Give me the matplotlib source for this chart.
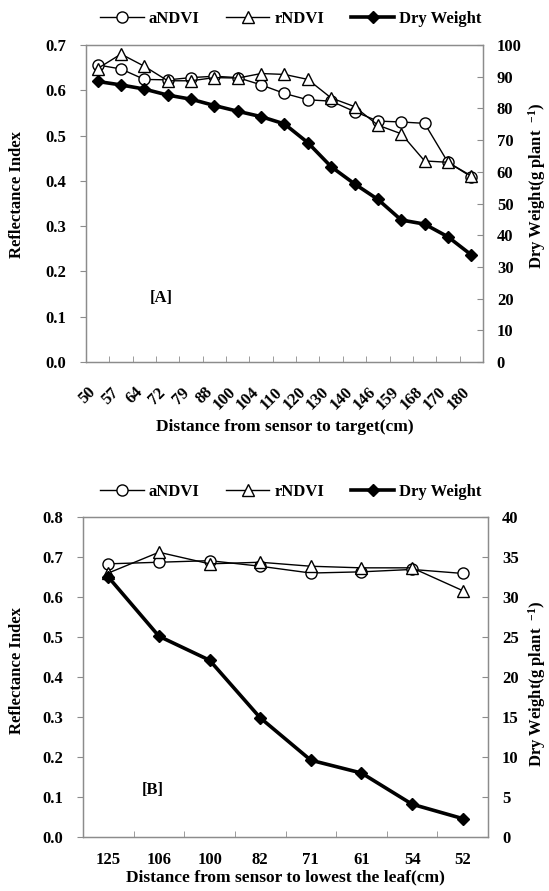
import numpy as np
import matplotlib
matplotlib.use("Agg")
import matplotlib.pyplot as plt
import matplotlib.transforms as mtransforms
from matplotlib.ticker import FixedLocator, MultipleLocator, FormatStrFormatter

plt.rcParams['font.family'] = ['Liberation Serif', 'DejaVu Serif']
plt.rcParams['font.weight'] = 'bold'
plt.rcParams['axes.labelweight'] = 'bold'
plt.rcParams['mathtext.fontset'] = 'custom'
plt.rcParams['mathtext.rm'] = 'Liberation Serif:bold'
plt.rcParams['mathtext.it'] = 'Liberation Serif:bold'
plt.rcParams['mathtext.bf'] = 'Liberation Serif:bold'

# Panel A
dist_a = ["50", "57", "64", "72", "79", "88", "100", "104", "110", "120",
          "130", "140", "146", "159", "168", "170", "180"]
andvi_a = [0.656, 0.647, 0.624, 0.623, 0.628, 0.631, 0.628, 0.612, 0.593, 0.579,
           0.576, 0.553, 0.532, 0.530, 0.527, 0.441, 0.409]
rndvi_a = [0.648, 0.680, 0.653, 0.621, 0.621, 0.628, 0.627, 0.637, 0.635, 0.624,
           0.583, 0.564, 0.523, 0.504, 0.444, 0.441, 0.411]
dry_a = [88.5, 87.4, 86.1, 84.2, 82.9, 80.9, 79.1, 77.4, 75.1, 69.2,
         61.6, 56.2, 51.3, 44.8, 43.5, 39.5, 33.8]

# Panel B
dist_b = ["125", "106", "100", "82", "71", "61", "54", "52"]
andvi_b = [0.683, 0.687, 0.691, 0.677, 0.660, 0.663, 0.669, 0.659]
rndvi_b = [0.660, 0.712, 0.683, 0.687, 0.677, 0.673, 0.673, 0.616]
dry_b = [32.5, 25.1, 22.1, 14.9, 9.6, 8.0, 4.1, 2.3]

GRAY = '#8c8c8c'
FS = 12


def draw_panel(ax, cats, andvi, rndvi, dry, ymax, ystep, y2max, y2step,
               rot, xlabel, tag, tagpos, lpos, rpos):
    x = np.arange(len(cats))
    ax2 = ax.twinx()
    l1, = ax.plot(x, andvi, color='black', lw=1.0, marker='o', ms=8,
                  mfc='white', mec='black', mew=1.0, label='aNDVI')
    l2, = ax.plot(x, rndvi, color='black', lw=1.0, marker='^', ms=8,
                  mfc='white', mec='black', mew=1.0, label='rNDVI')
    l3, = ax2.plot(x, dry, color='black', lw=2.6, marker='D', ms=6,
                   mfc='black', mec='black', label='Dry Weight')
    ax.set_xlim(-0.5, len(cats) - 0.5)
    ax.set_ylim(0, ymax)
    ax2.set_ylim(0, y2max)
    ax.yaxis.set_major_locator(MultipleLocator(ystep))
    ax2.yaxis.set_major_locator(MultipleLocator(y2step))
    ax.yaxis.set_major_formatter(FormatStrFormatter('%.1f'))
    ax.set_xticks(x)
    if rot:
        ax.set_xticklabels(cats, rotation=45, ha='right', va='top',
                           rotation_mode='anchor', fontsize=FS)
        ax.tick_params(axis='x', which='major', length=0, pad=16)
        shift = mtransforms.ScaledTranslation(-10 / 100, 0, ax.figure.dpi_scale_trans)
        for lab in ax.get_xticklabels():
            lab.set_transform(lab.get_transform() + shift)
    else:
        ax.set_xticklabels(cats, fontsize=FS)
        ax.tick_params(axis='x', which='major', length=0, pad=11)
    ax.xaxis.set_minor_locator(FixedLocator(x[1:] - 0.5))
    ax.tick_params(axis='x', which='minor', direction='in', length=4, color=GRAY)
    ax.tick_params(axis='y', direction='out', length=4, color=GRAY,
                   labelsize=FS, pad=10)
    ax2.tick_params(axis='y', direction='in', length=4, color=GRAY,
                    labelsize=FS, pad=10)
    for a in (ax, ax2):
        for s in a.spines.values():
            s.set_color(GRAY)
            s.set_linewidth(0.9)
    ax.text(lpos[0], lpos[1], 'Reflectance Index', transform=ax.transAxes,
            rotation=90, ha='center', va='center', fontsize=FS)
    ax.text(rpos[0], rpos[1], r'Dry Weight(g plant  $^{-1}$)', transform=ax.transAxes,
            rotation=90, ha='center', va='center', fontsize=FS)
    ax.set_xlabel(xlabel, fontsize=12.5)
    ax.text(tagpos[0], tagpos[1], tag, transform=ax.transAxes, fontsize=FS)
    return ax2, [l1, l2, l3]


fig = plt.figure(figsize=(5.49, 8.91), dpi=100)
ax_a = fig.add_axes([0.1566, 0.5937, 0.7231, 0.3558])
ax_b = fig.add_axes([0.1512, 0.0606, 0.7377, 0.3591])

_, handles = draw_panel(ax_a, dist_a, andvi_a, rndvi_a, dry_a, 0.7, 0.1, 100, 10,
                        True, 'Distance from sensor to target(cm)', '[A]', (0.16, 0.19),
                        (-0.174, 0.527), (1.136, 0.555))
ax_a.xaxis.labelpad = 4
draw_panel(ax_b, dist_b, andvi_b, rndvi_b, dry_b, 0.8, 0.1, 40, 5,
           False, 'Distance from sensor to lowest the leaf(cm)', '[B]', (0.145, 0.135),
           (-0.163, 0.52), (1.121, 0.48))
ax_b.xaxis.labelpad = 1

for y in (0.979, 0.448):
    fig.legend(handles=handles, loc='center', bbox_to_anchor=(0.53, y), ncol=3,
               frameon=False, fontsize=FS, handlelength=2.6, columnspacing=1.6,
               handletextpad=0.3)

fig.savefig('out.png', dpi=100)
